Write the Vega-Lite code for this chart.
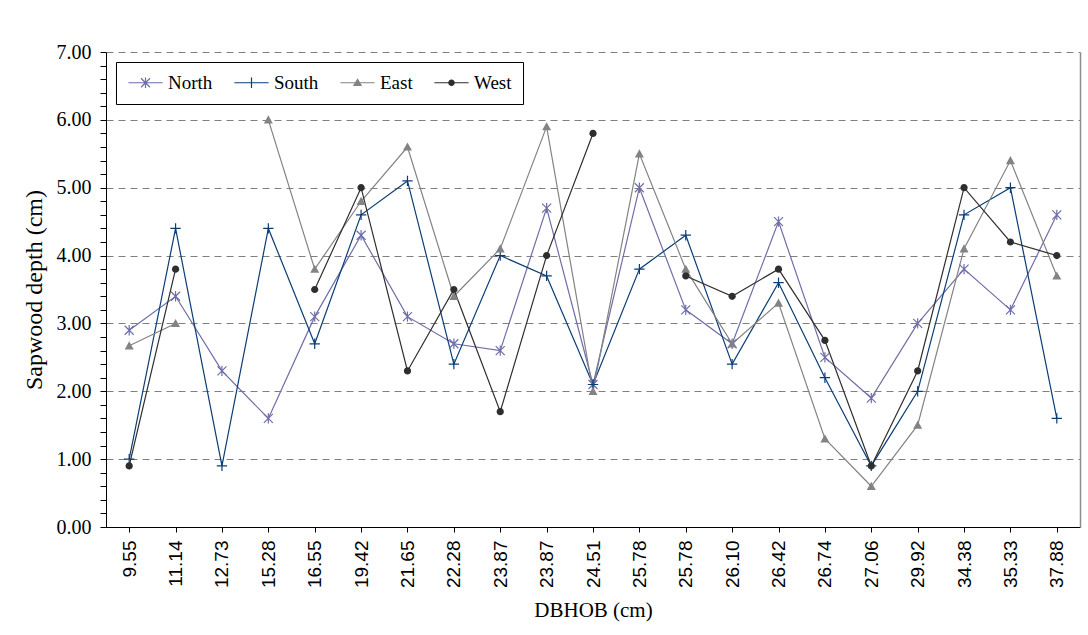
{
  "$schema": "https://vega.github.io/schema/vega-lite/v6.json",
  "width": 974,
  "height": 475,
  "autosize": {"type": "none"},
  "padding": {"left": 106, "top": 52, "right": 8, "bottom": 108},
  "background": "white",
  "config": {
    "font": "Liberation Serif",
    "view": {"stroke": null},
    "axis": {"titleFontWeight": "normal", "titleColor": "black", "labelColor": "black", "domainColor": "black", "tickColor": "black", "labelFlush": false, "labelOverlap": false}
  },
  "data": {
    "values": [
      {"i": 0, "dbh": "9.55", "series": "North", "depth": 2.9},
      {"i": 1, "dbh": "11.14", "series": "North", "depth": 3.4},
      {"i": 2, "dbh": "12.73", "series": "North", "depth": 2.3},
      {"i": 3, "dbh": "15.28", "series": "North", "depth": 1.6},
      {"i": 4, "dbh": "16.55", "series": "North", "depth": 3.1},
      {"i": 5, "dbh": "19.42", "series": "North", "depth": 4.3},
      {"i": 6, "dbh": "21.65", "series": "North", "depth": 3.1},
      {"i": 7, "dbh": "22.28", "series": "North", "depth": 2.7},
      {"i": 8, "dbh": "23.87", "series": "North", "depth": 2.6},
      {"i": 9, "dbh": "23.87\u200b", "series": "North", "depth": 4.7},
      {"i": 10, "dbh": "24.51", "series": "North", "depth": 2.1},
      {"i": 11, "dbh": "25.78", "series": "North", "depth": 5.0},
      {"i": 12, "dbh": "25.78\u200b", "series": "North", "depth": 3.2},
      {"i": 13, "dbh": "26.10", "series": "North", "depth": 2.7},
      {"i": 14, "dbh": "26.42", "series": "North", "depth": 4.5},
      {"i": 15, "dbh": "26.74", "series": "North", "depth": 2.5},
      {"i": 16, "dbh": "27.06", "series": "North", "depth": 1.9},
      {"i": 17, "dbh": "29.92", "series": "North", "depth": 3.0},
      {"i": 18, "dbh": "34.38", "series": "North", "depth": 3.8},
      {"i": 19, "dbh": "35.33", "series": "North", "depth": 3.2},
      {"i": 20, "dbh": "37.88", "series": "North", "depth": 4.6},

      {"i": 0, "dbh": "9.55", "series": "South", "depth": 1.0},
      {"i": 1, "dbh": "11.14", "series": "South", "depth": 4.4},
      {"i": 2, "dbh": "12.73", "series": "South", "depth": 0.9},
      {"i": 3, "dbh": "15.28", "series": "South", "depth": 4.4},
      {"i": 4, "dbh": "16.55", "series": "South", "depth": 2.7},
      {"i": 5, "dbh": "19.42", "series": "South", "depth": 4.6},
      {"i": 6, "dbh": "21.65", "series": "South", "depth": 5.1},
      {"i": 7, "dbh": "22.28", "series": "South", "depth": 2.4},
      {"i": 8, "dbh": "23.87", "series": "South", "depth": 4.0},
      {"i": 9, "dbh": "23.87\u200b", "series": "South", "depth": 3.7},
      {"i": 10, "dbh": "24.51", "series": "South", "depth": 2.1},
      {"i": 11, "dbh": "25.78", "series": "South", "depth": 3.8},
      {"i": 12, "dbh": "25.78\u200b", "series": "South", "depth": 4.3},
      {"i": 13, "dbh": "26.10", "series": "South", "depth": 2.4},
      {"i": 14, "dbh": "26.42", "series": "South", "depth": 3.6},
      {"i": 15, "dbh": "26.74", "series": "South", "depth": 2.2},
      {"i": 16, "dbh": "27.06", "series": "South", "depth": 0.9},
      {"i": 17, "dbh": "29.92", "series": "South", "depth": 2.0},
      {"i": 18, "dbh": "34.38", "series": "South", "depth": 4.6},
      {"i": 19, "dbh": "35.33", "series": "South", "depth": 5.0},
      {"i": 20, "dbh": "37.88", "series": "South", "depth": 1.6},

      {"i": 0, "dbh": "9.55", "series": "East", "depth": 2.67},
      {"i": 1, "dbh": "11.14", "series": "East", "depth": 3.0},
      {"i": 2, "dbh": "12.73", "series": "East", "depth": null},
      {"i": 3, "dbh": "15.28", "series": "East", "depth": 6.0},
      {"i": 4, "dbh": "16.55", "series": "East", "depth": 3.8},
      {"i": 5, "dbh": "19.42", "series": "East", "depth": 4.8},
      {"i": 6, "dbh": "21.65", "series": "East", "depth": 5.6},
      {"i": 7, "dbh": "22.28", "series": "East", "depth": 3.4},
      {"i": 8, "dbh": "23.87", "series": "East", "depth": 4.1},
      {"i": 9, "dbh": "23.87\u200b", "series": "East", "depth": 5.9},
      {"i": 10, "dbh": "24.51", "series": "East", "depth": 2.0},
      {"i": 11, "dbh": "25.78", "series": "East", "depth": 5.5},
      {"i": 12, "dbh": "25.78\u200b", "series": "East", "depth": 3.8},
      {"i": 13, "dbh": "26.10", "series": "East", "depth": 2.7},
      {"i": 14, "dbh": "26.42", "series": "East", "depth": 3.3},
      {"i": 15, "dbh": "26.74", "series": "East", "depth": 1.3},
      {"i": 16, "dbh": "27.06", "series": "East", "depth": 0.6},
      {"i": 17, "dbh": "29.92", "series": "East", "depth": 1.5},
      {"i": 18, "dbh": "34.38", "series": "East", "depth": 4.1},
      {"i": 19, "dbh": "35.33", "series": "East", "depth": 5.4},
      {"i": 20, "dbh": "37.88", "series": "East", "depth": 3.7},

      {"i": 0, "dbh": "9.55", "series": "West", "depth": 0.9},
      {"i": 1, "dbh": "11.14", "series": "West", "depth": 3.8},
      {"i": 2, "dbh": "12.73", "series": "West", "depth": null},
      {"i": 3, "dbh": "15.28", "series": "West", "depth": null},
      {"i": 4, "dbh": "16.55", "series": "West", "depth": 3.5},
      {"i": 5, "dbh": "19.42", "series": "West", "depth": 5.0},
      {"i": 6, "dbh": "21.65", "series": "West", "depth": 2.3},
      {"i": 7, "dbh": "22.28", "series": "West", "depth": 3.5},
      {"i": 8, "dbh": "23.87", "series": "West", "depth": 1.7},
      {"i": 9, "dbh": "23.87\u200b", "series": "West", "depth": 4.0},
      {"i": 10, "dbh": "24.51", "series": "West", "depth": 5.8},
      {"i": 11, "dbh": "25.78", "series": "West", "depth": null},
      {"i": 12, "dbh": "25.78\u200b", "series": "West", "depth": 3.7},
      {"i": 13, "dbh": "26.10", "series": "West", "depth": 3.4},
      {"i": 14, "dbh": "26.42", "series": "West", "depth": 3.8},
      {"i": 15, "dbh": "26.74", "series": "West", "depth": 2.75},
      {"i": 16, "dbh": "27.06", "series": "West", "depth": 0.9},
      {"i": 17, "dbh": "29.92", "series": "West", "depth": 2.3},
      {"i": 18, "dbh": "34.38", "series": "West", "depth": 5.0},
      {"i": 19, "dbh": "35.33", "series": "West", "depth": 4.2},
      {"i": 20, "dbh": "37.88", "series": "West", "depth": 4.0}
    ]
  },
  "resolve": {
    "axis": {"y": "independent"},
    "scale": {"shape": "independent", "fill": "independent", "stroke": "independent"}
  },
  "layer": [
    {
      "mark": {"type": "line", "strokeWidth": 1.2, "invalid": "break-paths-show-domains"},
      "encoding": {
        "x": {
          "field": "dbh", "type": "nominal",
          "scale": {
            "type": "point", "padding": 0.5,
            "domain": ["9.55", "11.14", "12.73", "15.28", "16.55", "19.42", "21.65", "22.28", "23.87", "23.87\u200b", "24.51", "25.78", "25.78\u200b", "26.10", "26.42", "26.74", "27.06", "29.92", "34.38", "35.33", "37.88"]
          },
          "axis": {
            "title": "DBHOB (cm)",
            "labelOverlap": false,
            "labelAngle": -90,
            "labelFont": "Liberation Sans",
            "labelFontSize": 19,
            "labelPadding": 8,
            "tickSize": 5,
            "grid": false,
            "titleFont": "Liberation Serif",
            "titleFontSize": 21,
            "titlePadding": 12
          }
        },
        "y": {
          "field": "depth", "type": "quantitative",
          "scale": {"domain": [0, 7], "nice": false},
          "axis": {
            "title": "Sapwood depth (cm)",
            "values": [0, 0.2, 0.4, 0.6, 0.8, 1, 1.2, 1.4, 1.6, 1.8, 2, 2.2, 2.4, 2.6, 2.8, 3, 3.2, 3.4, 3.6, 3.8, 4, 4.2, 4.4, 4.6, 4.8, 5, 5.2, 5.4, 5.6, 5.8, 6, 6.2, 6.4, 6.6, 6.8, 7],
            "labelExpr": "abs(datum.value - round(datum.value)) < 0.001 ? format(datum.value, '.2f') : ''",
            "labelOverlap": false,
            "labelFont": "Liberation Serif",
            "labelFontSize": 20,
            "labelPadding": 9,
            "tickSize": 6,
            "grid": true,
            "gridColor": "#808080",
            "gridDash": [7, 5],
            "gridWidth": 1,
            "gridOpacity": {"condition": {"test": "abs(datum.value - round(datum.value)) < 0.001", "value": 1}, "value": 0},
            "titleFont": "Liberation Serif",
            "titleFontSize": 24,
            "titlePadding": 10
          }
        },
        "color": {
          "field": "series", "type": "nominal",
          "scale": {"domain": ["North", "South", "East", "West"], "range": ["#6E6EA8", "#0B3D75", "#838383", "#2E2E2E"]},
          "legend": null
        }
      }
    },
    {
      "transform": [{"filter": "datum.series === 'North'"}],
      "mark": {"type": "point", "shape": "M-1,-1L1,1M-1,1L1,-1M0,-1.15L0,1.15", "filled": false, "color": "#6E6EA8", "strokeWidth": 1.2, "size": 81, "opacity": 1},
      "encoding": {
        "x": {"field": "dbh", "type": "nominal"},
        "y": {"field": "depth", "type": "quantitative", "axis": null}
      }
    },
    {
      "transform": [{"filter": "datum.series === 'South'"}],
      "mark": {"type": "point", "shape": "M-1.15,0L1.15,0M0,-1.15L0,1.15", "filled": false, "color": "#0B3D75", "strokeWidth": 1.2, "size": 81, "opacity": 1},
      "encoding": {
        "x": {"field": "dbh", "type": "nominal"},
        "y": {"field": "depth", "type": "quantitative", "axis": null}
      }
    },
    {
      "transform": [{"filter": "datum.series === 'East'"}],
      "mark": {"type": "point", "shape": "M0,-1L1,0.8L-1,0.8Z", "filled": true, "color": "#838383", "size": 81, "opacity": 1},
      "encoding": {
        "x": {"field": "dbh", "type": "nominal"},
        "y": {"field": "depth", "type": "quantitative", "axis": null}
      }
    },
    {
      "transform": [{"filter": "datum.series === 'West'"}],
      "mark": {"type": "point", "shape": "M0.8,0A0.8,0.8 0 1,1 -0.8,0A0.8,0.8 0 1,1 0.8,0Z", "filled": true, "color": "#2E2E2E", "size": 81, "opacity": 1},
      "encoding": {
        "x": {"field": "dbh", "type": "nominal"},
        "y": {"field": "depth", "type": "quantitative", "axis": null}
      }
    },
    {
      "mark": {"type": "point", "filled": true, "size": 81, "opacity": 0, "strokeWidth": 1.2},
      "encoding": {
        "x": {"field": "dbh", "type": "nominal"},
        "y": {
          "field": "depth", "type": "quantitative",
          "axis": {"orient": "right", "title": null, "labels": false, "ticks": false, "grid": false, "domainColor": "#8C8C8C", "domainWidth": 1.5}
        },
        "shape": {
          "field": "series", "type": "nominal",
          "scale": {"domain": ["North", "South", "East", "West"], "range": [
            "M-3.8,0L3.8,0M-1,-1L1,1M-1,1L1,-1M0,-1.15L0,1.15",
            "M-3.8,0L3.8,0M0,-1.15L0,1.15",
            "M-3.8,0L3.8,0M0,-0.75L0.8,0.6L-0.8,0.6Z",
            "M-3.8,0L3.8,0M0.6,0A0.6,0.6 0 1,1 -0.6,0A0.6,0.6 0 1,1 0.6,0Z"
          ]},
          "legend": {
            "title": null, "orient": "top-left", "offset": 10, "direction": "horizontal", "columns": 4,
            "strokeColor": "black", "fillColor": "white", "padding": 11,
            "symbolSize": 81, "symbolStrokeWidth": 1.2, "symbolOpacity": 1,
            "symbolFillColor": "#000000", "symbolStrokeColor": "#000000",
            "symbolOffset": 9, "labelOffset": 13, "columnPadding": 19, "gridAlign": "each",
            "labelFont": "Liberation Serif", "labelFontSize": 19, "labelColor": "black"
          }
        },
        "fill": {
          "field": "series", "type": "nominal",
          "scale": {"domain": ["North", "South", "East", "West"], "range": ["#6E6EA8", "#0B3D75", "#838383", "#2E2E2E"]},
          "legend": {
            "title": null, "orient": "top-left", "offset": 10, "direction": "horizontal", "columns": 4,
            "strokeColor": "black", "fillColor": "white", "padding": 11,
            "symbolSize": 81, "symbolStrokeWidth": 1.2, "symbolOpacity": 1,
            "symbolFillColor": "#000000", "symbolStrokeColor": "#000000",
            "symbolOffset": 9, "labelOffset": 13, "columnPadding": 19, "gridAlign": "each",
            "labelFont": "Liberation Serif", "labelFontSize": 19, "labelColor": "black"
          }
        },
        "stroke": {
          "field": "series", "type": "nominal",
          "scale": {"domain": ["North", "South", "East", "West"], "range": ["#6E6EA8", "#0B3D75", "#838383", "#2E2E2E"]},
          "legend": {
            "title": null, "orient": "top-left", "offset": 10, "direction": "horizontal", "columns": 4,
            "strokeColor": "black", "fillColor": "white", "padding": 11,
            "symbolSize": 81, "symbolStrokeWidth": 1.2, "symbolOpacity": 1,
            "symbolFillColor": "#000000", "symbolStrokeColor": "#000000",
            "symbolOffset": 9, "labelOffset": 13, "columnPadding": 19, "gridAlign": "each",
            "labelFont": "Liberation Serif", "labelFontSize": 19, "labelColor": "black"
          }
        }
      }
    }
  ]
}
